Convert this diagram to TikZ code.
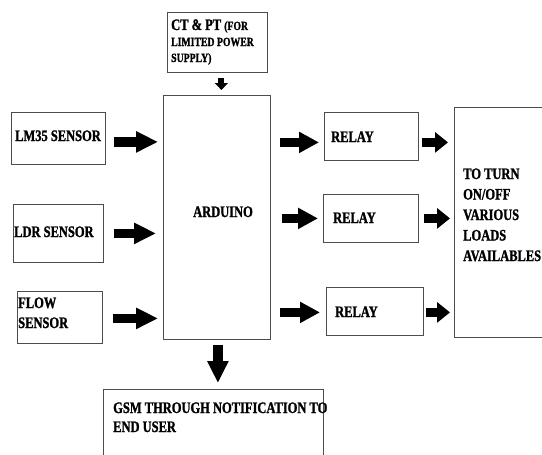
\documentclass[tikz,border=0pt]{standalone}
\usepackage{fontspec}
\setmainfont{Liberation Serif}[FakeStretch=0.78, BoldFeatures={FakeBold=1.3}]
\usetikzlibrary{arrows.meta}
\begin{document}
\begin{tikzpicture}[x=1pt,y=-1pt,
  box/.style={draw=black!70, line width=0.8pt, inner sep=0pt, anchor=north west},
  txt/.style={anchor=base west, inner sep=0pt, font=\fontsize{16}{19}\selectfont\bfseries},
  sml/.style={anchor=base west, inner sep=0pt, font=\fontsize{12.5}{15}\selectfont\bfseries},
  blk/.style={line width=9.5pt, -{Triangle[length=#1,width=20pt]}},
  blk/.default=20pt,
  blksmall/.style={line width=6pt, -{Triangle[length=7pt,width=13pt]}}
]
\path[use as bounding box] (0,0) rectangle (542,455);
\clip (0,0) rectangle (542,455);

% boxes
\node[box, minimum width=100pt, minimum height=60pt] (ct) at (167,12) {};
\node[box, minimum width=107pt, minimum height=244pt] (ard) at (163,95) {};
\node[box, minimum width=94pt, minimum height=52pt] (lm) at (11,112) {};
\node[box, minimum width=90pt, minimum height=58pt] (ldr) at (13,204) {};
\node[box, minimum width=85pt, minimum height=52pt] (flow) at (17,291) {};
\node[box, minimum width=94pt, minimum height=48pt] (r1) at (324,112) {};
\node[box, minimum width=95pt, minimum height=48pt] (r2) at (323,194) {};
\node[box, minimum width=97pt, minimum height=48pt] (r3) at (326,287) {};
\node[box, minimum width=100pt, minimum height=230pt] (loads) at (454,107) {};
\node[box, minimum width=220pt, minimum height=80pt] (gsm) at (103,389) {};

% texts
\node[txt] (ct1) at (171,30) {CT \& PT {\fontsize{12.5}{15}\selectfont (FOR}};
\node[sml] (ct2) at (171,46) {LIMITED POWER};
\node[sml] (ct3) at (171,62) {SUPPLY)};
\node[txt, anchor=base] (lmt) at (58,141) {LM35 SENSOR};
\node[txt] (ldrt) at (14,237) {LDR SENSOR};
\node[txt] (flowt1) at (18,308) {FLOW};
\node[txt] (flowt2) at (18,328) {SENSOR};
\node[txt] (ardt) at (193,217) {ARDUINO};
\node[txt] (r1t) at (331,142) {RELAY};
\node[txt] (r2t) at (333,223) {RELAY};
\node[txt] (r3t) at (335,317) {RELAY};
\node[txt] (lo1) at (463,179) {TO TURN};
\node[txt] (lo2) at (463,199.5) {ON/OFF};
\node[txt] (lo3) at (463,220) {VARIOUS};
\node[txt] (lo4) at (463,240.5) {LOADS};
\node[txt] (lo5) at (463,261) {AVAILABLES};
\node[txt] (gs1) at (113,413) {GSM THROUGH NOTIFICATION TO};
\node[txt] (gs2) at (113,432) {END USER};

% arrows
\draw[blksmall] ([xshift=4pt,yshift=-5pt]ct.south) -- ([xshift=4pt,yshift=5pt]ct.south |- ard.north);
\draw[blk=22pt] ([xshift=8pt,yshift=-3.5pt]lm.east) -- ([xshift=-5pt,yshift=-3.5pt]lm.east -| ard.west);
\draw[blk=22pt] ([xshift=10pt]ldr.east) -- ([xshift=-7pt]ldr.east -| ard.west);
\draw[blk=22pt] ([xshift=10pt,yshift=-1pt]flow.east) -- ([xshift=-5pt,yshift=-1pt]flow.east -| ard.west);

\draw[blk] ([xshift=9pt,yshift=-6pt]r1.west -| ard.east) -- ([xshift=-5pt,yshift=-6pt]r1.west);
\draw[blk] ([xshift=11pt]r2.west -| ard.east) -- ([xshift=-5pt]r2.west);
\draw[blk] ([xshift=9pt,yshift=-1pt]r3.west -| ard.east) -- ([xshift=-6pt,yshift=-1pt]r3.west);

\draw[blk=13pt] ([xshift=3pt,yshift=-6pt]r1.east) -- ([xshift=-6pt,yshift=-6pt]r1.east -| loads.west);
\draw[blk=13pt] ([xshift=5pt]r2.east) -- ([xshift=-4pt]r2.east -| loads.west);
\draw[blk=13pt] ([xshift=2pt,yshift=-1pt]r3.east) -- ([xshift=-4pt,yshift=-1pt]r3.east -| loads.west);

\draw[blk=22pt] ([xshift=1pt,yshift=-5pt]ard.south) -- ([xshift=1pt,yshift=6pt]ard.south |- gsm.north);
\end{tikzpicture}
\end{document}
